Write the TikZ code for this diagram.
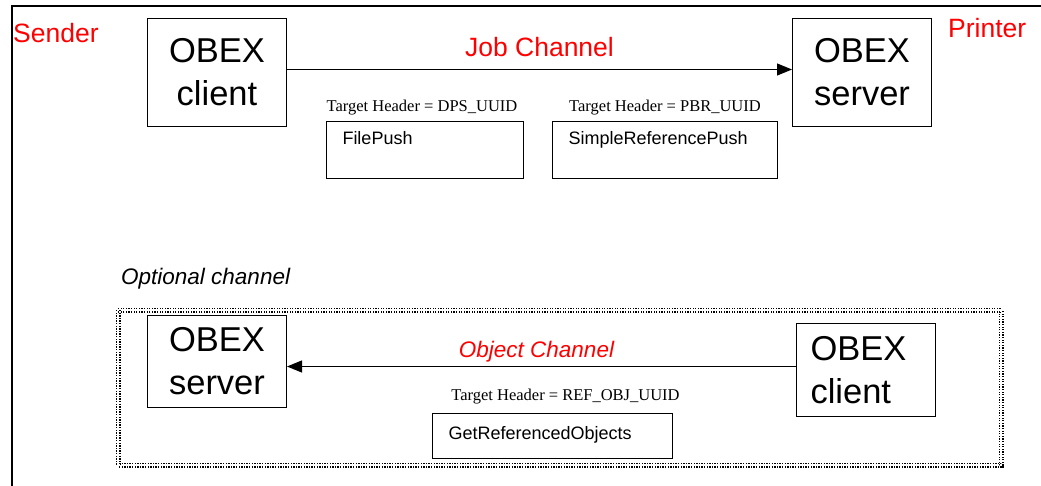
\documentclass[tikz,border=0pt]{standalone}
\usepackage{fontspec}
\setmainfont{Liberation Sans}
\newfontfamily\hdrfont{Liberation Serif}
\usepackage{tikz}
\usetikzlibrary{arrows.meta}
\usetikzlibrary{positioning}

\begin{document}
\begin{tikzpicture}
		[x=1pt, y=-1pt,
		obex/.style={draw, line width=1pt, inner sep=0pt, minimum width=139pt, font=\fontsize{34.5}{43}\selectfont},
		profile/.style={draw, line width=1pt, inner xsep=16pt, inner ysep=0pt, align=left, font=\fontsize{18}{22}\selectfont},
		target/.style={inner sep=0pt, font=\hdrfont\fontsize{16.5}{20}\selectfont},
		role/.style={inner sep=0pt, text=red, font=\fontsize{26.5}{32}\selectfont},
		channel/.style={-{Triangle[length=15pt, width=12pt]}, line width=1pt}]
		\useasboundingbox (0,0) rectangle (1041,486);
		\draw[line width=2.5pt] (12,486) -- (12,6) -- (1041,6);
		\coordinate (a) at (147,18);
		\coordinate (b) at (792,18);
		\coordinate (c) at (147,315);
		\coordinate (d) at (796,323);
		% job channel
		\node[role, anchor=base west] (snd) at (13,43) {Sender};
		\node[role, anchor=base west] (prn) at (948,38) {Printer};
		\node[obex, anchor=north west, minimum height=108pt, align=center] (cl) at (a) {OBEX\\ client};
		\node[obex, anchor=north west, minimum height=108pt, align=center] (sv) at (b) {OBEX\\server};
		\draw[channel] ([yshift=3pt]cl.east) to node[midway, above=12pt, role] {Job Channel} ([yshift=3pt]sv.west);
		\node[profile, anchor=north west, text width=165pt, text height=23pt, text depth=34pt] (fp) at (326,121) {FilePush};
		\node[profile, anchor=north west, text width=193pt, text height=23pt, text depth=34pt] (srp) at (552,121) {SimpleReferencePush};
		\node[target, above=9pt of fp.north, anchor=base, xshift=-3pt] (dps) {Target Header = DPS\_UUID};
		\node[target, above=9pt of srp.north, anchor=base] (pbr) {Target Header = PBR\_UUID};
		% optional channel
		\node[anchor=base west, inner sep=0pt, font=\itshape\fontsize{22.5}{27}\selectfont] (opt) at (121,285) {Optional channel};
		\draw[double, line width=1.5pt, double distance=2pt, dash pattern=on 1.3pt off 1.3pt] (118,310) rectangle (1001,465);
		\node[obex, anchor=north west, minimum height=92pt, align=center] (osv) at (c) {OBEX\\ server};
		\node[obex, anchor=north west, minimum height=93pt, inner xsep=14pt, text width=111pt, align=left] (ocl) at (d) {OBEX\\client};
		\draw[channel] ([yshift=3.5pt]ocl.west) to node[midway, anchor=base, yshift=9pt, xshift=-5pt, role, font=\itshape\fontsize{22.5}{27}\selectfont] {Object Channel} ([yshift=-5pt]osv.east);
		\node[profile, anchor=north west, text width=208pt, text height=26pt, text depth=19pt] (gro) at (432,413) {GetReferencedObjects};
		\node[target, above=13pt of gro.north, anchor=base, xshift=13pt] (ref) {Target Header = REF\_OBJ\_UUID};
	\end{tikzpicture}
\end{document}
